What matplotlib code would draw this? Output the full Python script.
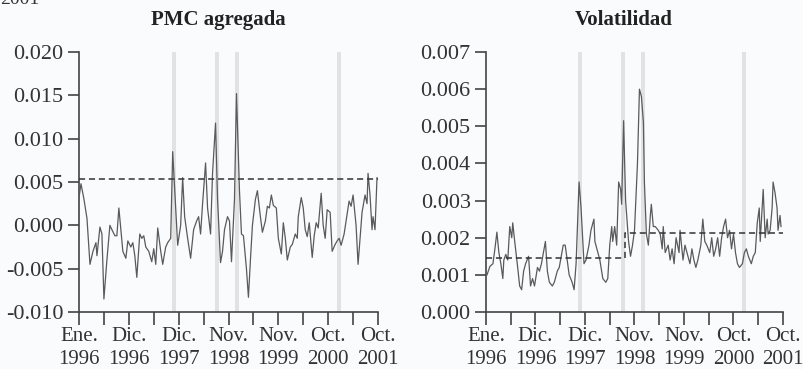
import numpy as np
import matplotlib.pyplot as plt
from matplotlib.ticker import FixedLocator, FuncFormatter

plt.rcParams['font.family'] = ['Liberation Serif', 'DejaVu Serif']
plt.rcParams['font.size'] = 15

# weekly observations, week 0 = Jan 1996
pmc_week = [0, 2, 5, 8, 11, 14, 17, 18, 21, 23, 25, 28, 31, 33, 36, 38, 40, 42, 44, 47,
            49, 52, 54, 56, 58, 61, 63, 65, 67, 70, 73, 75, 77, 79, 82, 84, 87, 89, 92, 94,
            97, 99, 102, 104, 106, 109, 112, 115, 118, 120, 122, 124, 127, 129, 132, 134, 137, 139, 142, 144,
            146, 149, 151, 153, 156, 158, 161, 163, 165, 168, 170, 172, 174, 177, 179, 182, 184, 187, 189, 191,
            193, 195, 198, 200, 203, 205, 207, 209, 212, 214, 217, 219, 220, 223, 225, 227, 229, 231, 234, 236,
            238, 240, 243, 245, 247, 249, 252, 254, 257, 259, 261, 263, 266, 268, 271, 273, 275, 278, 280, 283,
            284, 287, 289, 290, 292, 294, 295, 297, 299]
pmc = [0.0032, 0.0048, 0.0030, 0.0008, -0.0045, -0.0030, -0.0020, -0.0035, -0.0002, -0.0010,
       -0.0085, -0.0040, 0.0000, -0.0005, -0.0012, -0.0012, 0.0020, -0.0005, -0.0030, -0.0038,
       -0.0018, -0.0025, -0.0020, -0.0035, -0.0060, -0.0010, -0.0015, -0.0012, -0.0025, -0.0030,
       -0.0042, -0.0027, -0.0045, -0.0003, -0.0030, -0.0045, -0.0025, -0.0020, -0.0015, 0.0085,
       0.0020, -0.0023, 0.0000, 0.0055, 0.0010, -0.0015, -0.0038, -0.0005, 0.0005, 0.0010,
       -0.0010, 0.0025, 0.0072, 0.0020, -0.0010, 0.0060, 0.0118, 0.0030, -0.0043, -0.0030,
       -0.0005, 0.0010, 0.0005, -0.0042, 0.0030, 0.0152, 0.0040, -0.0010, -0.0012, -0.0050,
       -0.0083, -0.0040, 0.0000, 0.0030, 0.0040, 0.0010, -0.0008, 0.0005, 0.0022, 0.0020,
       0.0035, 0.0023, 0.0020, -0.0015, -0.0033, 0.0003, -0.0015, -0.0040, -0.0025, -0.0022,
       -0.0010, -0.0015, 0.0010, 0.0032, 0.0020, -0.0005, -0.0013, 0.0003, -0.0037, -0.0012,
       0.0003, -0.0003, 0.0037, 0.0000, -0.0015, 0.0018, 0.0015, -0.0030, -0.0022, -0.0018,
       -0.0015, -0.0023, -0.0010, 0.0005, 0.0028, 0.0022, 0.0035, 0.0000, -0.0045, 0.0000,
       0.0015, 0.0035, 0.0025, 0.0060, 0.0035, -0.0005, 0.0010, -0.0005, 0.0055]
pmc_mean = 0.0053

vol_week = [1, 4, 7, 9, 11, 13, 15, 17, 18, 20, 22, 24, 26, 27, 29, 32, 34, 36, 38, 40,
            43, 45, 47, 49, 52, 54, 56, 58, 60, 62, 64, 67, 69, 72, 74, 76, 78, 80, 82, 84,
            87, 89, 91, 93, 94, 96, 99, 101, 104, 106, 109, 110, 113, 115, 118, 121, 123, 125, 127, 128,
            130, 132, 134, 136, 137, 139, 141, 144, 146, 148, 150, 153, 155, 157, 159, 160, 162, 164, 166, 167,
            169, 171, 174, 176, 178, 179, 181, 184, 186, 188, 190, 192, 195, 196, 199, 201, 203, 206, 208, 210,
            212, 214, 217, 219, 221, 223, 226, 228, 230, 232, 234, 236, 238, 240, 242, 244, 246, 248, 250, 252,
            254, 256, 259, 261, 263, 265, 268, 270, 272, 274, 276, 277, 280, 282, 284, 285, 287, 289, 290, 292,
            294, 295, 297, 298]
vol = [0.0010, 0.00123, 0.0013, 0.0017, 0.00215, 0.0016, 0.0013, 0.0009, 0.0014, 0.00155,
       0.0014, 0.0023, 0.0020, 0.0024, 0.0019, 0.0012, 0.0007, 0.0006, 0.0011, 0.0013,
       0.0015, 0.0007, 0.0009, 0.0007, 0.0012, 0.0011, 0.0013, 0.0016, 0.0019, 0.0011,
       0.0008, 0.0007, 0.0008, 0.0011, 0.0012, 0.0015, 0.0018, 0.0018, 0.0014, 0.0010,
       0.0008, 0.0006, 0.0013, 0.0028, 0.0035, 0.0028, 0.0013, 0.0014, 0.0018, 0.0022,
       0.0025, 0.0019, 0.0016, 0.0014, 0.0009, 0.0008, 0.0009, 0.0018, 0.0023, 0.0019,
       0.0023, 0.0018, 0.0035, 0.0033, 0.0029, 0.00515, 0.0030, 0.0019, 0.0015, 0.0018,
       0.0022, 0.0040, 0.0060, 0.0058, 0.0051, 0.0035, 0.0021, 0.0018, 0.0026, 0.0029,
       0.0023, 0.0023, 0.0022, 0.0021, 0.0017, 0.0023, 0.0016, 0.0018, 0.0014, 0.0017,
       0.0013, 0.0020, 0.0016, 0.0022, 0.0014, 0.0018, 0.0016, 0.0013, 0.0017, 0.0014,
       0.0012, 0.0014, 0.0018, 0.0025, 0.0019, 0.0018, 0.0016, 0.0020, 0.0015, 0.0017,
       0.0020, 0.0015, 0.0020, 0.0023, 0.0025, 0.0020, 0.0022, 0.0017, 0.0021, 0.0016,
       0.0013, 0.0012, 0.0013, 0.0016, 0.0017, 0.0015, 0.0013, 0.0015, 0.0016, 0.0024,
       0.0028, 0.0019, 0.0033, 0.0020, 0.0025, 0.0021, 0.0022, 0.0028, 0.0035, 0.0032,
       0.0028, 0.0022, 0.0026, 0.0023]
vol_break = 140
vol_mean_before = 0.00145
vol_mean_after = 0.00214

# crisis weeks shaded in both panels
crisis_bands = [(93, 97), (136, 140), (157, 161), (259, 263)]

tick_weeks = list(range(0, 301, 25))
label_weeks = list(range(0, 301, 50))
tick_labels = ['Ene.\n1996', 'Dic.\n1996', 'Dic.\n1997', 'Nov.\n1998',
               'Nov.\n1999', 'Oct.\n2000', 'Oct.\n2001']

bg = '#f9fbfd'
line_col = '#5a5a5a'
axis_col = '#444444'

fig = plt.figure(figsize=(8.04, 3.69), dpi=100, facecolor=bg)
ax1 = fig.add_axes([79 / 804, 57 / 369, 299 / 804, 260 / 369])
ax2 = fig.add_axes([486 / 804, 57 / 369, 297 / 804, 260 / 369])


def style(ax):
    ax.set_facecolor(bg)
    for s in ('top', 'right'):
        ax.spines[s].set_visible(False)
    for s in ('left', 'bottom'):
        ax.spines[s].set_color(axis_col)
        ax.spines[s].set_linewidth(1.2)
    ax.set_xlim(0, 300)
    ax.xaxis.set_major_locator(FixedLocator(label_weeks))
    ax.xaxis.set_minor_locator(FixedLocator([w for w in tick_weeks if w not in label_weeks]))
    ax.set_xticklabels(tick_labels, linespacing=1.25)
    ax.tick_params(axis='x', which='both', length=9, width=1.2, color=axis_col,
                   direction='out', pad=2, labelsize=15, labelcolor='#333333')
    ax.tick_params(axis='y', length=8, width=1.2, color=axis_col, pad=3,
                   labelsize=16, labelcolor='#333333')
    for lo, hi in crisis_bands:
        ax.axvspan(lo, hi, color='#e2e2e2', lw=0, zorder=0)


style(ax1)
ax1.plot(pmc_week, pmc, color=line_col, lw=0.9, zorder=3)
ax1.plot([0, 300], [pmc_mean, pmc_mean], color='#333333', lw=1.1, ls=(0, (4, 2.5)), zorder=4)
ax1.set_ylim(-0.010, 0.020)
ax1.set_yticks(np.arange(-0.010, 0.0201, 0.005))
ax1.yaxis.set_major_formatter(FuncFormatter(lambda v, p: f'{v:.3f}'.replace('\u2212', '-')))

style(ax2)
ax2.plot(vol_week, vol, color=line_col, lw=0.9, zorder=3)
ax2.plot([0, vol_break, vol_break, 300],
         [vol_mean_before, vol_mean_before, vol_mean_after, vol_mean_after],
         color='#333333', lw=1.1, ls=(0, (4, 2.5)), zorder=4)
ax2.set_ylim(0, 0.007)
ax2.set_yticks(np.arange(0, 0.00701, 0.001))
ax2.yaxis.set_major_formatter(FuncFormatter(lambda v, p: f'{abs(v):.3f}'))

fig.text(218 / 804, 1 - 20 / 369, 'PMC agregada', ha='center', va='center',
         fontsize=15, fontweight='bold', color='#222222')
fig.text(624 / 804, 1 - 20 / 369, 'Volatilidad', ha='center', va='center',
         fontsize=15, fontweight='bold', color='#222222')
fig.text(0.0, 1.0, '2001', ha='left', va='center', fontsize=14, color='#333333')

fig.savefig('out.png', dpi=100, facecolor=bg)
